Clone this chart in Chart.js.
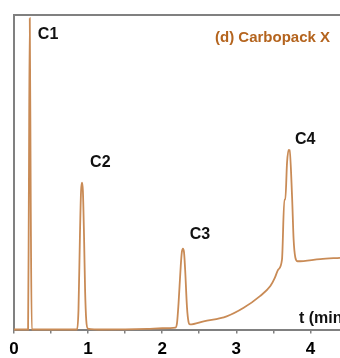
<!DOCTYPE html>
<html>
<head>
<meta charset="utf-8">
<script src="https://cdn.jsdelivr.net/npm/chart.js@4/dist/chart.umd.min.js"></script>
<style>
  html, body { margin: 0; padding: 0; background: #fff; }
  #wrap { width: 340px; height: 358px; }
</style>
</head>
<body>
<div id="wrap"><canvas id="chromChart" width="340" height="358"></canvas></div>
<script>
// retention time (min) and detector signal (% of C1 height)
const times = [0, 0.19, 0.2, 0.213, 0.226, 0.24,
    0.85, 0.87, 0.89, 0.905, 0.918, 0.93, 0.945, 0.96, 0.975, 0.995,
    1.2, 1.8, 2.0, 2.18, 2.2, 2.22, 2.25, 2.265, 2.28, 2.295, 2.31, 2.335, 2.355, 2.375,
    2.56, 2.87, 3.1, 3.32, 3.46, 3.52, 3.565, 3.617, 3.649, 3.662, 3.685, 3.707, 3.72,
    3.753, 3.774, 3.797, 3.828, 4.135, 4.4];
const signal = [0, 0, 40, 99, 40, 0,
    0, 6, 30, 44, 46.7, 44, 30, 12, 3, 0.3,
    0, 0.2, 0.4, 0.6, 2, 8, 20, 24.5, 25.7, 24.5, 19, 7, 2.5, 1.6,
    2.6, 4.2, 6.9, 10.6, 13.8, 16.4, 19, 22.2, 41.3, 41.3, 53, 57.1, 57,
    42.3, 28.6, 22.9, 21.7, 22.4, 22.8];

// peak labels
const peakNames = ['C1', 'C2', 'C3', 'C4'];
const peakLabelT = [0.46, 1.165, 2.51, 3.93];
const peakLabelY = [93.7, 53, 30.2, 60.3];

// x axis tick marks (every half minute) and labelled ones
const tickMarks = [0, 0.5, 1, 1.5, 2, 2.5, 3, 3.5, 4];
const xTicks = [0, 1, 2, 3, 4];
const panelTitle = '(d) Carbopack X';
const axisTitle = 't (min';

const FONT = "'Liberation Sans Narrow', 'Arial Narrow', 'Liberation Sans', Arial, sans-serif";
const AXIS_GRAY = '#808080';
const TRACE = '#C98B56';

const points = times.map((t, i) => ({ x: t, y: signal[i] }));

// text annotations drawn with the chart scales
const annotations = {
    id: 'annotations',
    afterDraw(chart) {
        const { ctx, chartArea, scales } = chart;
        ctx.save();
        ctx.font = 'bold 16px ' + FONT;
        ctx.fillStyle = '#111';
        ctx.textAlign = 'center';
        ctx.textBaseline = 'middle';
        peakNames.forEach((name, i) => {
            ctx.fillText(name, scales.x.getPixelForValue(peakLabelT[i]), scales.y.getPixelForValue(peakLabelY[i]));
        });

        ctx.textAlign = 'left';
        ctx.textBaseline = 'alphabetic';
        ctx.fillText(axisTitle, chartArea.right - 41, chartArea.bottom - 7);

        ctx.fillStyle = '#B4641E';
        ctx.textAlign = 'right';
        ctx.textBaseline = 'middle';
        ctx.font = 'bold 15px ' + FONT;
        ctx.fillText(panelTitle, chartArea.right - 10, chartArea.top + 23);
        ctx.restore();
    }
};

new Chart(document.getElementById('chromChart'), {
    type: 'line',
    data: {
        datasets: [{
            data: points,
            borderColor: TRACE,
            borderWidth: 1.8,
            pointRadius: 0,
            fill: false,
            cubicInterpolationMode: 'monotone',
            clip: 3
        }]
    },
    options: {
        responsive: false,
        animation: false,
        layout: { padding: 0 },
        plugins: {
            legend: { display: false },
            tooltip: { enabled: false }
        },
        scales: {
            x: {
                type: 'linear',
                min: 0,
                max: 4.4,
                afterFit: s => { s.height = 28.5; },
                afterBuildTicks: s => {
                    s.ticks = tickMarks.map(v => ({ value: v }));
                },
                ticks: {
                    autoSkip: false,
                    maxRotation: 0,
                    padding: 6,
                    color: '#000',
                    font: { family: FONT, size: 17, weight: 'bold' },
                    callback: v => xTicks.includes(v) ? String(v) : ''
                },
                grid: {
                    drawOnChartArea: false,
                    drawTicks: true,
                    tickLength: 4,
                    color: AXIS_GRAY,
                    lineWidth: 1.5
                },
                border: { display: true, color: AXIS_GRAY, width: 2 }
            },
            xTop: {
                type: 'linear',
                position: 'top',
                min: 0,
                max: 4.4,
                afterFit: s => { s.height = 15; },
                ticks: { display: false },
                grid: { display: false },
                border: { display: true, color: AXIS_GRAY, width: 2 }
            },
            y: {
                min: 0,
                max: 100,
                afterFit: s => { s.width = 14; },
                ticks: { display: false },
                grid: { display: false },
                border: { display: true, color: AXIS_GRAY, width: 2 }
            }
        }
    },
    plugins: [annotations]
});
</script>
</body>
</html>
